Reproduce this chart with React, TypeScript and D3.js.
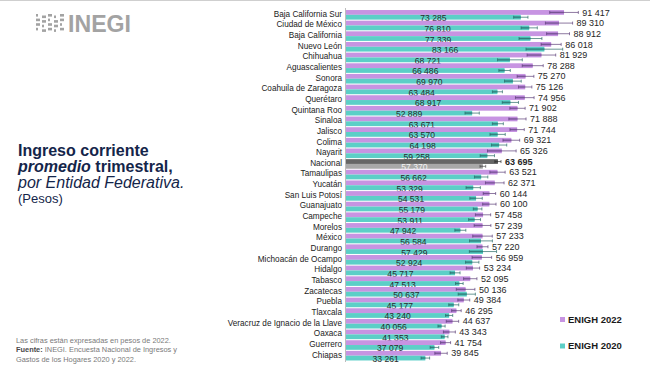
import React from 'react';
import * as d3 from 'd3';

// state names, in the order shown (top to bottom)
const estados = [
  'Baja California Sur', 'Ciudad de México', 'Baja California', 'Nuevo León', 'Chihuahua',
  'Aguascalientes', 'Sonora', 'Coahuila de Zaragoza', 'Querétaro', 'Quintana Roo', 'Sinaloa',
  'Jalisco', 'Colima', 'Nayarit', 'Nacional', 'Tamaulipas', 'Yucatán', 'San Luis Potosí',
  'Guanajuato', 'Campeche', 'Morelos', 'México', 'Durango', 'Michoacán de Ocampo', 'Hidalgo',
  'Tabasco', 'Zacatecas', 'Puebla', 'Tlaxcala', 'Veracruz de Ignacio de la Llave', 'Oaxaca',
  'Guerrero', 'Chiapas',
];

const ingreso2022 = [
  91417, 89310, 88912, 86018, 81929, 78288, 75270, 75126, 74956, 71902, 71888, 71744, 69321,
  65326, 63695, 63521, 62371, 60144, 60100, 57458, 57239, 57233, 57220, 56959, 53234, 52095,
  50136, 49384, 46295, 44637, 43343, 41754, 39845,
];

const ingreso2020 = [
  73285, 76810, 77339, 83166, 68721, 66486, 69970, 63484, 68917, 52889, 63671, 63570, 64198,
  59258, 57370, 56662, 53329, 54531, 55179, 53911, 47942, 56584, 57429, 52924, 45717, 47513,
  50637, 45177, 43240, 40056, 41353, 37079, 33261,
];

// half width of the confidence interval (pesos)
const error2022 = [
  6000, 5700, 4800, 4200, 6000, 4400, 3500, 2800, 3900, 3200, 3600, 3000, 3500, 6000, 1300,
  3200, 3900, 2600, 2800, 3200, 3500, 4100, 2300, 4100, 2800, 2800, 3900, 2500, 2000, 2600,
  2500, 2100, 2600,
];

const error2020 = [
  3000, 3400, 4800, 7700, 5200, 2400, 3500, 2100, 3400, 3000, 2300, 3200, 3200, 3000, 1200,
  2800, 3000, 2600, 1800, 2500, 2300, 4800, 5700, 2800, 2100, 1600, 3600, 2100, 1500, 1500,
  1400, 1800, 1800,
];

const series = ['ENIGH 2022', 'ENIGH 2020'];

const W = 650;
const H = 365;
const FONT = "'Liberation Sans', Arial, sans-serif";
const NAVY = '#14254a';

const colors = {
  'ENIGH 2022': { bar: '#c794e2', dark: '#a878c8', line: '#5d3f78' },
  'ENIGH 2020': { bar: '#5ccfc7', dark: '#40aba4', line: '#2a6b67' },
};
const nacionalColors = {
  'ENIGH 2022': { bar: '#666666', dark: '#4f4f4f', line: '#333333' },
  'ENIGH 2020': { bar: '#a8a8a8', dark: '#8f8f8f', line: '#555555' },
};

const fmt = d3.formatLocale({ decimal: ',', thousands: ' ', grouping: [3], currency: ['$', ''] }).format(',d');

const App = () => {
  const x = d3.scaleLinear().domain([0, 100000]).range([346, 584.5]);
  const y = d3.scaleBand<string>().domain(estados).range([9.5, 361]).paddingInner(0.1).paddingOuter(0.05);
  const ys = d3.scaleBand<string>().domain(series).range([0, y.bandwidth()]);

  const rows = estados.map((name, i) => ({
    name,
    values: [
      { key: 'ENIGH 2022', v: ingreso2022[i], e: error2022[i] },
      { key: 'ENIGH 2020', v: ingreso2020[i], e: error2020[i] },
    ],
  }));

  const bh = ys.bandwidth();

  return (
    <svg width={W} height={H} style={{ position: 'absolute', left: 0, top: 0, background: '#fff' }} fontFamily={FONT}>
      <rect width={W} height={H} fill="#fff" />
      <line x1={0} x2={W} y1={0.5} y2={0.5} stroke="#cfcfcf" />

      {/* INEGI logo */}
      <g fill="#a3a3a3">
        {d3.range(5).map((c) =>
          d3.range(4).map((r) => (
            <rect key={`${c}-${r}`} x={36 + c * 6} y={14 + r * 4.6 + (c % 2) * 1.5} width={(c + r) % 3 === 0 ? 2 : 4} height={2.6} />
          ))
        )}
        <text x={68} y={32} fontSize={24} fontWeight="bold" textLength={63} lengthAdjust="spacingAndGlyphs">INEGI</text>
      </g>

      {/* title */}
      <g fill={NAVY}>
        <text x={18} y={156} fontSize={16} fontWeight="bold">Ingreso corriente</text>
        <text x={18} y={172} fontSize={16} fontWeight="bold">
          <tspan fontStyle="italic">promedio</tspan> trimestral,
        </text>
        <text x={18} y={187.5} fontSize={16} fontStyle="italic">por Entidad Federativa.</text>
        <text x={18} y={203} fontSize={13}>(Pesos)</text>
      </g>

      {/* footer */}
      <g fontSize={7.4} fill="#7a7a7a">
        <text x={16} y={343}>Las cifras están expresadas en pesos de 2022.</text>
        <text x={16} y={352.3}>
          <tspan fontWeight="bold" fill="#4a4a4a">Fuente:</tspan> INEGI. Encuesta Nacional de Ingresos y
        </text>
        <text x={16} y={361.5}>Gastos de los Hogares 2020 y 2022.</text>
      </g>

      {/* axis line */}
      <line x1={345.5} x2={345.5} y1={8} y2={362} stroke="#bdbdbd" />

      {/* category labels */}
      <g fontSize={8.2} fill="#222" textAnchor="end">
        {estados.map((name) => (
          <text key={name} x={342} y={(y(name) ?? 0) + y.bandwidth() / 2 - 1} dy="0.35em">{name}</text>
        ))}
      </g>

      {/* bars, error bars, labels */}
      {rows.map((row) => {
        const top = y(row.name) ?? 0;
        const isNac = row.name === 'Nacional';
        return (
          <g key={row.name}>
            {row.values.map((d) => {
              const c = (isNac ? nacionalColors : colors)[d.key as keyof typeof colors];
              const by = top + (ys(d.key) ?? 0);
              const cy = by + bh / 2;
              const lo = x(d.v - d.e);
              const hi = x(d.v + d.e);
              const end = x(d.v);
              return (
                <g key={d.key}>
                  <rect x={x(0)} y={by} width={end - x(0)} height={bh} fill={c.bar} />
                  <rect x={lo} y={cy - bh * 0.26} width={end - lo} height={bh * 0.52} fill={c.dark} />
                  <line x1={lo} x2={hi} y1={cy} y2={cy} stroke={c.line} strokeWidth={0.7} />
                  <line x1={lo} x2={lo} y1={cy - 1.5} y2={cy + 1.5} stroke={c.line} strokeWidth={0.7} />
                  <line x1={hi} x2={hi} y1={cy - 1.5} y2={cy + 1.5} stroke={c.line} strokeWidth={0.7} />
                  {d.key === 'ENIGH 2022' ? (
                    <text x={hi + 4} y={cy} dy="0.35em" fontSize={9} fill="#262626" fontWeight={isNac ? 'bold' : 'normal'}>
                      {fmt(d.v)}
                    </text>
                  ) : (
                    <text x={(x(0) + end) / 2} y={cy + 1} dy="0.35em" fontSize={8.6} textAnchor="middle" fill={isNac ? '#f4f4f4' : '#2b2b2b'}>
                      {fmt(d.v)}
                    </text>
                  )}
                </g>
              );
            })}
          </g>
        );
      })}

      {/* legend */}
      <g fontSize={9.5} fontWeight="bold" fill="#1a1a1a">
        {series.map((s, i) => (
          <g key={s} transform={`translate(560, ${319.5 + i * 26.5})`}>
            <rect x={0} y={-2.5} width={5} height={5} fill={colors[s as keyof typeof colors].bar} />
            <text x={8} y={0} dy="0.35em">{s}</text>
          </g>
        ))}
      </g>
    </svg>
  );
};

export default App;
